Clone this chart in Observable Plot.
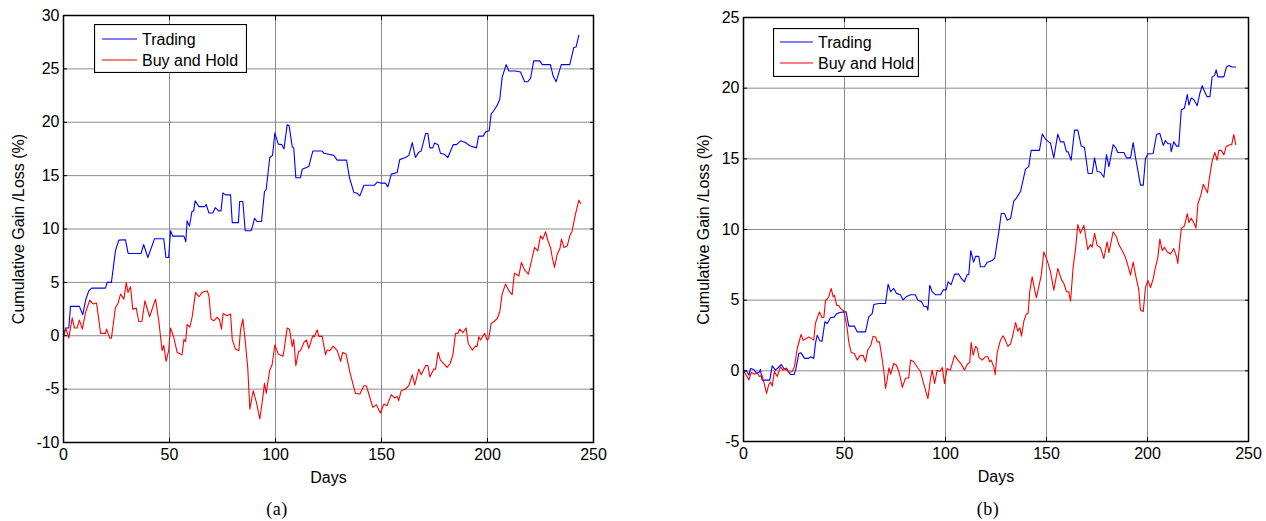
<!DOCTYPE html>
<html><head><meta charset="utf-8">
<script src="https://cdn.jsdelivr.net/npm/d3@7"></script>
<script src="https://cdn.jsdelivr.net/npm/@observablehq/plot@0.6"></script>
<style>
body{margin:0;background:#fff;}
#wrap{position:relative;width:1266px;height:521px;overflow:hidden;background:#fff;}
.panel{position:absolute;top:0;}
.legend{position:absolute;background:#fff;}
.caption{position:absolute;top:499px;width:60px;text-align:center;font:18px "Liberation Serif","Times New Roman",serif;letter-spacing:0.5px;color:#000;}
</style>
</head><body>
<div id="wrap"></div>
<script>
// ---------- data ----------
const seriesNames = ["Trading", "Buy and Hold"];
const seriesColors = ["#0000ff", "#ff0000"];
const xTicks = [0, 50, 100, 150, 200, 250];
const yTicksA = [-10, -5, 0, 5, 10, 15, 20, 25, 30];
const yTicksB = [-5, 0, 5, 10, 15, 20, 25];
const xLabel = "Days";
const yLabel = "Cumulative Gain /Loss (%)";
const captions = ["(a)", "(b)"];

// (a) Trading
const daysA1 = [0,1,2.5,3.3,7.5,9.1,10.5,11.9,13.3,19.8,20.6,22.6,24.5,26.1,29.2,30.5,36.6,37.8,39.8,42.9,47.3,48.3,49.6,50.5,51.5,56.8,57.7,58.3,59.4,60.6,61.4,62.1,63.9,66.7,67.3,68.6,70.4,71.6,73.2,74.3,75.2,76.4,78.8,79.6,82.5,83.1,84.6,85.7,88.5,89.2,90.1,91.4,93.4,94.8,95.6,97.3,98.6,99.7,101.3,103,104,105.5,106.4,107.9,108.6,109.6,111.8,112.6,115.7,117.6,122,122.8,125.1,127.5,129.1,133.5,134.9,136.9,138.5,139.8,141.7,146.7,148,149.5,151.9,153,154.6,157.4,158.6,161.3,162.9,164.5,166,167.6,168.7,170.8,171.9,172.8,174.2,175,176.7,177.8,179.7,181.3,183.8,185.4,187.3,189.6,191.6,194.8,195.8,198,199.1,200.8,201.7,203,204.6,205.8,206.9,208.8,210.1,213.2,215.6,217.5,219,220.3,221.8,224.7,225.8,229.7,231,232.4,234.8,238.8,240.7,241.8,243.1];
const valsA1 = [0,0.72,0.72,2.75,2.75,1.97,3.4,4.2,4.46,4.46,5.0,5.0,7.96,8.96,9.0,7.71,7.71,8.55,7.33,9.08,9.08,7.33,7.33,9.83,9.33,9.33,8.8,10.77,10.27,11.64,11.7,12.64,12.1,12.1,12.3,11.5,11.5,12.0,11.7,11.7,13.39,13.2,13.2,10.6,10.6,12.58,12.58,9.83,9.83,10.3,11.0,10.7,10.7,13.5,13.7,16.7,16.9,19.0,17.95,17.9,17.5,19.76,19.7,17.7,17.6,14.8,14.8,15.6,15.85,17.3,17.3,17.1,17.0,16.9,16.45,16.45,14.8,13.45,13.35,13.1,14.1,14.1,14.4,14.3,14.3,13.95,15.14,15.3,16.5,16.7,16.9,18.1,16.7,17.2,17.3,18.94,18.94,17.6,17.6,18.05,17.9,17.1,17.0,16.7,17.9,17.9,18.26,18.1,17.8,17.6,18.7,18.7,19.1,19.2,20.76,21.1,21.6,22.15,24.2,25.4,24.8,24.8,24.7,23.8,23.8,24.1,25.75,25.75,25.4,25.4,24.3,23.8,25.4,25.4,27.0,27.05,28.15];
// (a) Buy and Hold
const daysA2 = [0,1.1,2.5,4.1,5.2,6.4,7.5,8.9,10.4,12.4,14,15.6,17.5,19.8,20.3,21.8,22.6,24.5,25.6,26.9,28.5,29.6,30.4,31.6,32.7,34.3,35.5,37,38.4,40.6,43.4,45,46.5,47.3,48.4,49.6,50.5,52,53.6,55.2,55.9,56.8,57.6,58.3,59.6,60.7,62.3,63.9,65.4,66.5,67.8,68.6,69.6,70.9,72.4,73.6,74.5,75.3,77.2,78.8,79.6,81.1,82.7,83.5,84.6,85.7,86.9,87.9,89.5,91,92.6,93.8,94.8,95.6,97.2,98.4,99.7,101.3,103.5,104,105.5,106.6,107.9,108.6,109.6,110.9,111.8,113.4,114.6,115.7,117.6,118.3,119.7,120.4,122,123.6,124.3,125.6,127.2,129.1,130.7,131.7,133.3,135.1,137.7,139.8,141.7,142.8,144.1,145.9,147.6,149.5,151.1,152.6,154.6,156.1,157.4,158.1,159.3,161.3,162.9,164.5,165.7,167.6,168.7,170.8,171.9,172.8,174.7,175.5,176.7,177.8,180.9,182.4,183.7,184.9,186,186.9,188.4,189.9,190.9,192.8,194.3,195.1,195.9,196.7,198.6,199.8,200.6,201.7,203,204.6,205.8,206.9,208.5,210.1,211.6,212.7,214.8,216,217.5,219.3,221.1,222.2,223.7,225,226.1,227.4,228.5,229.7,230.5,231.6,232.9,234.2,234.9,236,237.6,238.8,239.9,241.5,243.1,243.9];
const valsA2 = [0,0.72,-0.22,1.68,0.72,0.72,1.47,0.62,2.18,3.34,2.97,3.06,0.22,0.22,0.62,-0.22,-0.22,2.65,2.97,3.9,3.43,4.99,4.06,4.6,2.47,2.6,1.34,1.34,3.28,1.78,3.43,1.31,-1.4,-0.9,-2.4,-1.4,0.72,-0.12,-1.56,-1.72,-1.8,-0.34,-0.56,1.06,0.8,1.78,4.06,3.65,4.06,4.15,4.2,3.75,1.56,1.4,1.72,1.5,0.62,2.09,1.87,2.03,-0.34,-1.25,-1.4,0.53,1.56,-0.47,-2.96,-6.87,-5.15,-6.24,-7.8,-6.1,-4.46,-5.4,-3.28,-2.72,-0.84,-1.72,-1.93,-1.4,0.72,0.62,-1.03,-0.34,-2.8,-1.46,-1.4,-0.62,-0.4,-1.18,0,-0.1,0.56,-0.06,-0.06,-1.78,-1.34,-1.4,-0.97,-1.4,-2.4,-1.56,-1.72,-3.43,-5.4,-5.46,-4.68,-4.68,-5.5,-6.71,-6.46,-7.24,-6.4,-6.55,-5.52,-5.83,-5.7,-6.08,-5.15,-4.99,-4.68,-3.65,-4.6,-3.12,-3.65,-2.8,-2.8,-3.87,-3.12,-3.15,-1.56,-2.28,-2.96,-2.6,-1.78,0.22,0.22,0.62,0.3,0.72,-0.72,-1.34,-0.97,-1.0,-0.09,-0.4,0.22,-0.4,-0.25,1.15,1.31,1.62,2.25,3.9,4.84,4.21,3.84,5.87,5.6,6.87,6.15,5.77,7.33,8.27,7.95,9.36,9.05,9.74,8.9,8.27,7.4,6.4,7.64,8.2,9.05,8.27,8.4,9.36,9.8,11.4,12.7,12.4];
// (b) Trading
const daysB1 = [0,1.5,2.7,3.5,5.1,6.3,7.6,8.4,9.2,13,14.2,15.8,17,18.7,20,21.6,23.3,25,25.8,27.4,28.5,30.2,32.3,33.2,34.8,35.6,36.5,37.8,38.9,40.3,41.4,43.1,44.8,46.1,47.7,49.7,50.8,52.1,54.9,56.3,60.4,62,63.7,64.5,67,70.3,71.6,72.8,74.4,75.7,77.7,79,80.7,82.7,85.1,86.3,88,89.4,90.7,91.3,92.2,93.4,95.1,97.6,98.9,100.3,101.3,102.8,104.5,106.6,107.8,109.4,110.7,111.5,112.5,113.9,114.9,116.5,117.3,119.3,120.6,123.1,124.4,125.6,126.4,127.6,129.2,130.5,132.2,133.8,135,135.8,137.1,138.4,139.6,141.2,142.4,146.5,147.9,149.5,151.1,152,153.6,155.6,156.9,158.6,159.9,160.7,162.2,163.9,165.5,167.2,168.8,170.6,172.6,173.8,175.1,176.7,178.4,179.7,180.9,183,184.2,185.3,188.3,189.6,191.6,192.9,194.1,195.2,196.5,197.9,199,200.2,202.8,204.5,206.1,207.8,208.9,210.1,211.4,211.7,213,214.4,215.5,216.7,218.3,219.7,220.5,221.6,222.9,224.6,225.9,227.1,228.3,229.5,230.9,232,233.2,234,234.8,237.8,239.1,240.3,241.9,243.6];
const valsB1 = [0,0,-0.31,0.17,0.1,-0.14,-0.14,0.1,-0.66,-0.66,0.35,0.05,0.2,0.45,0.17,0.05,-0.26,-0.26,0.05,1.23,1.27,0.88,0.88,1.0,0.88,1.93,2.52,2.12,2.1,3.47,3.35,3.75,3.8,4.03,4.13,4.17,4.17,3.16,3.16,2.76,2.76,3.82,4.05,4.69,4.76,4.76,6.13,5.6,5.83,5.48,5.38,5.02,5.26,5.38,5.38,5.0,4.9,4.55,4.55,4.3,6.06,5.6,5.38,5.38,5.73,5.73,6.3,6.1,6.84,6.84,6.54,6.3,6.8,6.8,8.5,7.7,8.1,8.1,7.36,7.36,7.67,7.8,8.0,9.13,9.83,11.13,11.13,10.66,10.77,12.0,12.2,12.4,12.67,13.5,14.27,14.45,15.6,15.6,16.75,16.4,16.2,16.1,15.07,16.75,16.2,16.2,15.5,15.5,14.9,17.03,17.03,15.9,15.8,13.96,13.96,15.07,14.1,14.05,13.7,15.3,14.45,16.0,15.8,15.45,15.45,15.07,15.07,16.15,15.07,14.2,13.14,13.14,15.03,15.35,15.38,16.72,16.8,15.95,16.3,16.07,16.07,15.5,16.2,15.9,15.9,18.45,18.6,19.55,18.8,19.3,19.2,18.76,19.62,20.17,19.74,19.4,19.4,20.8,20.9,21.3,20.8,20.8,21.5,21.6,21.5,21.5];
// (b) Buy and Hold
const daysB2 = [0,1.2,2.7,3.8,5.4,6.8,7.9,9.2,10.4,11.4,12.5,13.4,14.2,15.3,16.7,18.3,19.6,21.3,22.4,24.1,25.2,26.6,28.5,29.5,31.2,32.3,33.2,34.8,35.6,36.5,37.6,38.9,39.8,40.6,41.4,42.2,43.4,44.4,45,46.1,47.2,48.1,49.3,50.1,51.3,52.1,53.3,54.9,56.3,57.6,59.2,60.4,61.5,62.9,64.2,65.4,66.2,67.3,68.6,69.5,70.3,71.1,72,72.8,74.4,75.7,76.9,77.7,78.6,80.2,81.8,82.7,84.3,86.3,87.6,88.9,90.1,91.3,92.6,93.4,94.6,95.9,97.2,98.4,99.5,100.8,102.4,104.5,106.1,107.8,109.4,110.7,112,112.7,113.7,114.9,115.7,116.6,118.2,119.8,121,121.8,122.6,123.9,124.6,125.6,127.2,128.5,129.2,130.9,132.2,133.3,134.7,135.8,136.8,137.6,138.8,139.9,140.9,141.7,142.9,144,145,146.2,147.4,148.7,150.3,152,153.6,155.6,157.5,158.6,159.9,161,161.9,163.2,164.4,165.5,166.8,168.5,169.3,170.4,171.8,172.6,173.8,175.1,176.7,178.4,180,180.9,183,184.6,185.8,187.4,189,190,191.6,192.9,194.1,195.7,196.5,197.9,199,200.2,201.5,202.8,203.9,205.1,206.1,207.3,208.4,209.7,211.4,213,214.4,215,216.7,218.3,219.7,220.5,221.6,222.9,224,225,226.3,227.6,228.8,229.7,230.5,232,233.3,234.5,235.3,236.5,237.8,238.9,240.6,241.7,242.7,243.7];
const valsB2 = [0,-0.28,-0.64,-0.12,-0.24,-0.17,-0.4,-0.33,-0.97,-1.6,-0.97,-0.8,-1.08,-0.05,-0.4,0.28,0.05,0.2,-0.1,-0.05,0.28,1.58,2.57,2.17,2.29,2.4,2.33,2.17,3.35,3.75,4.17,3.75,3.8,5.0,5.07,5.24,5.83,5.24,5.35,4.65,4.6,4.4,4.27,3.94,3.03,2.05,1.3,1.22,0.76,1.06,1.1,0.64,1.47,1.77,2.45,2.4,2.05,2.05,0.87,-0.05,-1.25,-0.64,0.22,-0.24,0.52,0.4,-0.05,-0.52,-1.18,-0.52,-0.5,0.76,0.64,0.2,-0.05,-0.76,-1.37,-1.96,-0.52,0.05,-0.9,0.05,-0.05,0.24,-0.9,0.17,0.05,1.1,0.76,0.47,0.05,0.45,0.6,2.0,1.1,1.73,1.63,0.95,0.76,1.0,1.0,0.64,0.76,0.28,-0.26,1.3,2.17,2.48,2.3,1.73,1.9,2.5,3.42,2.8,3.05,2.45,3.52,4.0,4.08,5.6,6.65,5.83,5.17,5.95,6.77,8.42,7.83,7.0,5.71,7.24,6.42,6.18,5.6,5.6,4.93,7.36,8.65,10.35,9.73,10.3,9.6,8.58,8.93,8.75,9.73,8.86,8.72,7.95,9.13,8.37,9.84,9.49,8.93,8.53,8.06,7.6,6.77,7.7,6.77,5.71,4.3,4.2,5.9,6.4,5.9,6.5,7.3,8.0,9.32,8.5,8.75,8.43,8.27,8.65,8.07,7.6,10.07,10.26,11.13,10.5,10.8,10.5,10.1,11.84,12.4,13.2,12.86,12.6,13.5,14.84,15.45,14.9,15.6,15.6,15.28,15.86,16.0,16.0,16.72,16.0];

// ---------- drawing ----------
const font = '"Liberation Sans", Arial, sans-serif';
function toRows(days, vals) { return days.map((d, i) => ({day: d, value: vals[i]})); }

function panel({series, yDomain, yTicks, width, height, marginLeft, marginRight, marginTop, marginBottom, yLabelOffset}) {
  const fmt = d => String(d);
  return Plot.plot({
    width, height, marginLeft, marginRight, marginTop, marginBottom,
    x: {domain: [0, 250]},
    y: {domain: yDomain},
    style: {fontFamily: font, fontSize: "16px", background: "#fff", color: "#000", overflow: "visible"},
    marks: [
      Plot.gridX(xTicks, {stroke: "#8a8a8a", strokeOpacity: 1, strokeWidth: 1}),
      Plot.gridY(yTicks, {stroke: "#8a8a8a", strokeOpacity: 1, strokeWidth: 1}),
      ...series.map((s, i) => Plot.lineY(toRows(s[0], s[1]), {x: "day", y: "value", stroke: seriesColors[i], strokeWidth: 1.1})),
      Plot.frame({stroke: "#000", strokeWidth: 1.5}),
      Plot.axisX(xTicks, {anchor: "bottom", tickSize: -4, tickPadding: 10, tickFormat: fmt, label: xLabel, labelAnchor: "center", labelOffset: 40, labelArrow: "none"}),
      Plot.axisX(xTicks, {anchor: "top", tickSize: -4, tickFormat: () => "", label: null}),
      Plot.axisY(yTicks, {anchor: "left", tickSize: -4, tickPadding: 8, tickFormat: fmt, label: yLabel, labelAnchor: "center", labelOffset: yLabelOffset, labelArrow: "none"}),
      Plot.axisY(yTicks, {anchor: "right", tickSize: -4, tickFormat: () => "", label: null})
    ]
  });
}

function legend(left, top, w, h, lineX1, lineX2, textX, rowYs) {
  const ns = "http://www.w3.org/2000/svg";
  const div = document.createElement("div");
  div.className = "legend";
  div.style.left = left + "px"; div.style.top = top + "px";
  const svg = document.createElementNS(ns, "svg");
  svg.setAttribute("width", w); svg.setAttribute("height", h);
  svg.style.display = "block";
  const rect = document.createElementNS(ns, "rect");
  rect.setAttribute("x", 0.5); rect.setAttribute("y", 0.5);
  rect.setAttribute("width", w - 1); rect.setAttribute("height", h - 1);
  rect.setAttribute("fill", "#fff"); rect.setAttribute("stroke", "#000"); rect.setAttribute("stroke-width", 1.2);
  svg.appendChild(rect);
  seriesNames.forEach((name, i) => {
    const ln = document.createElementNS(ns, "line");
    ln.setAttribute("x1", lineX1); ln.setAttribute("x2", lineX2);
    ln.setAttribute("y1", rowYs[i]); ln.setAttribute("y2", rowYs[i]);
    ln.setAttribute("stroke", seriesColors[i]); ln.setAttribute("stroke-width", 1.1);
    svg.appendChild(ln);
    const tx = document.createElementNS(ns, "text");
    tx.setAttribute("x", textX); tx.setAttribute("y", rowYs[i]);
    tx.setAttribute("dy", "0.35em");
    tx.setAttribute("font-family", font); tx.setAttribute("font-size", "16px");
    tx.textContent = name;
    svg.appendChild(tx);
  });
  div.appendChild(svg);
  return div;
}

const wrap = document.getElementById("wrap");

const pa = document.createElement("div"); pa.className = "panel"; pa.style.left = "0px";
pa.appendChild(panel({series: [[daysA1, valsA1], [daysA2, valsA2]], yDomain: [-10, 30], yTicks: yTicksA,
  width: 633, height: 495, marginLeft: 63, marginRight: 40, marginTop: 15, marginBottom: 53, yLabelOffset: 51}));
wrap.appendChild(pa);

const pb = document.createElement("div"); pb.className = "panel"; pb.style.left = "633px";
pb.appendChild(panel({series: [[daysB1, valsB1], [daysB2, valsB2]], yDomain: [-5, 25], yTicks: yTicksB,
  width: 633, height: 495, marginLeft: 110, marginRight: 18, marginTop: 17, marginBottom: 54, yLabelOffset: 46}));
wrap.appendChild(pb);

wrap.appendChild(legend(94, 24, 153, 49, 8, 43, 48, [15, 36]));
wrap.appendChild(legend(773, 28, 146, 49, 7, 40, 45, [14, 35]));

[[277, captions[0]], [988, captions[1]]].forEach(([cx, t]) => {
  const c = document.createElement("div"); c.className = "caption";
  c.style.left = (cx - 30) + "px"; c.textContent = t; wrap.appendChild(c);
});
</script>
</body></html>
